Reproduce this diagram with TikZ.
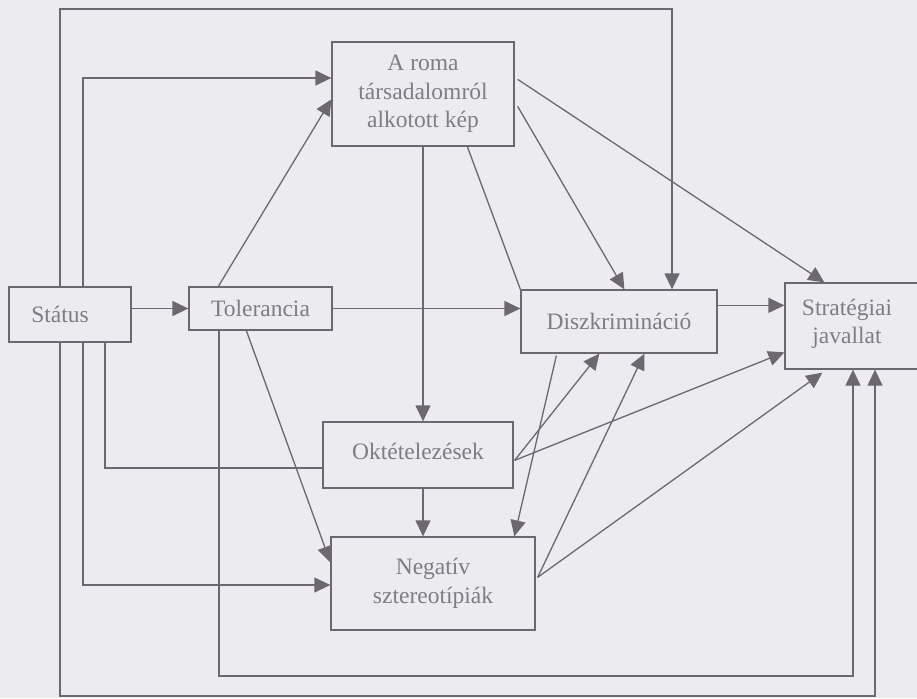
\documentclass[tikz,border=0pt]{standalone}
\usepackage{fontspec}
\setmainfont{Liberation Serif}
\usetikzlibrary{arrows.meta,calc}
\definecolor{bgc}{RGB}{236,235,240}
\definecolor{lnc}{RGB}{108,103,113}
\definecolor{txc}{RGB}{128,124,132}
\begin{document}
\begin{tikzpicture}[x=1pt,y=-1pt,
  box/.style={draw=lnc, line width=1.3pt, fill=bgc, text=txc, align=center,
    inner sep=0pt, font=\fontsize{23.5}{28.5}\selectfont},
  txt/.style={text=txc, align=center, inner sep=0pt, font=\fontsize{23.5}{28.5}\selectfont},
  ln/.style={draw=lnc, line width=1.3pt},
  arr/.style={ln, -{Triangle[length=16pt,width=15pt]}}]
\useasboundingbox (0,0) rectangle (917,698);
\clip (0,0) rectangle (917,698);
\fill[bgc] (0,0) rectangle (917,698);

% routing coordinates
\coordinate (t1) at (60,9);
\coordinate (t2) at (83,78);
\coordinate (b1) at (60,696);
\coordinate (b2) at (83,585);
\coordinate (b3) at (105,468);
\coordinate (b4) at (219,676);
\coordinate (x672) at (672,0);
\coordinate (x853) at (853,0);
\coordinate (x875) at (875,0);

% nodes
\node[box, minimum width=122, minimum height=55] (status) at (70,314.5) {\hspace*{-20pt}Státus};
\node[box, minimum width=143, minimum height=43] (tol) at (260.5,308.5) {Tolerancia};
\node[box, minimum width=182, minimum height=104] (roma) at (423,94) {A roma\\társadalomról\\alkotott kép};
\node[box, minimum width=196, minimum height=63] (disz) at (619,321.5) {Diszkrimináció};
\node[box, minimum width=140, minimum height=86] (strat) at (855,326) {};
\node[txt] (strattxt) at (847,324) {Stratégiai\\javallat};
\node[box, minimum width=190, minimum height=66] (ok) at (418,455) {\raisebox{8pt}{Oktételezések}};
\node[box, minimum width=204, minimum height=93] (neg) at (433,583.5) {Negatív\\sztereotípiák};

% connectors
\draw[arr] (status.north -| t1) -- (t1) -| (x672 |- disz.north);
\draw[arr] (status.north -| t2) |- (roma.west |- t2);
\draw[arr] (status.east |- tol.west) -- (tol.west);
\draw[arr] ($(tol.north west)+(30,0)$) -- ($(roma.north west)+(0,58)$);
\draw[arr] (tol.east) -- (disz.west |- tol.east);
\draw[arr] (roma.south) -- (roma.south |- ok.north);
\draw[ln] ($(roma.south west)+(136,0)$) -- (disz.north west);
\draw[arr] ($(roma.north east)+(3,65)$) -- ($(disz.north west)+(104,0)$);
\draw[arr] ($(roma.north east)+(3,38)$) -- ($(strat.north west)+(40,0)$);
\draw[arr] ($(disz.north east)+(0,16)$) coordinate (p10) -- (strat.west |- p10);
\draw[arr] (tol.south -| b4) -- (b4) -| (x853 |- strat.south);
\draw[arr] ($(tol.south west)+(58,0)$) -- ($(neg.north west)+(0,26)$);
\draw[arr] (status.south -| b1) -- (b1) -| (x875 |- strat.south);
\draw[arr] (status.south -| b2) |- (neg.west |- b2);
\draw[ln] (status.south -| b3) |- (ok.west |- b3);
\draw[arr] (ok.south -| roma.south) -- (neg.north -| roma.south);
\draw[arr] ($(ok.north east)+(1,39)$) coordinate (p17) -- ($(strat.north west)+(0,70)$);
\draw[arr] (p17) -- ($(disz.south west)+(79,0)$);
\draw[arr] ($(disz.south west)+(36,2)$) -- ($(neg.north west)+(184,0)$);
\draw[arr] ($(neg.north east)+(2,41)$) coordinate (p20) -- ($(disz.south west)+(124,0)$);
\draw[arr] (p20) -- ($(strat.south west)+(38,3)$);
\end{tikzpicture}
\end{document}
